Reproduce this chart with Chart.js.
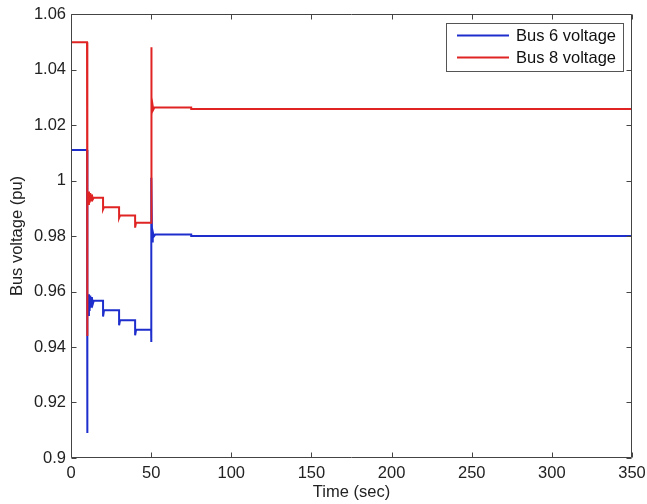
<!DOCTYPE html>
<html><head><meta charset="utf-8">
<script src="https://cdn.jsdelivr.net/npm/chart.js@4/dist/chart.umd.min.js"></script>
<style>html,body{margin:0;padding:0;background:#fff}</style>
</head><body>
<canvas id="c" width="647" height="504"></canvas>
<script>
const xTicks = [0, 50, 100, 150, 200, 250, 300, 350];
const yTicks = [0.9, 0.92, 0.94, 0.96, 0.98, 1.0, 1.02, 1.04, 1.06];
const seriesNames = ['Bus 6 voltage', 'Bus 8 voltage'];

const bus6Time = [0, 10, 10, 10.4, 10.8, 11.2, 11.6, 12.0, 12.5, 13.0, 13.6, 14.2, 20, 20, 20.6, 30, 30, 30.6, 40, 40, 40.6, 50, 50, 50.2, 50.6, 51.0, 51.6, 52.5, 75, 75, 350];
const bus6Volt = [1.011, 1.011, 0.909, 0.955, 0.9515, 0.959, 0.953, 0.9585, 0.9545, 0.958, 0.9555, 0.9567, 0.9567, 0.951, 0.9532, 0.9532, 0.9478, 0.9496, 0.9496, 0.9442, 0.9462, 0.9462, 0.9418, 1.001, 0.978, 0.9815, 0.9798, 0.9805, 0.9805, 0.980, 0.980];

const bus8Time = [0, 10, 10, 10.4, 10.8, 11.2, 11.6, 12.0, 12.5, 13.0, 13.6, 14.2, 20, 20, 20.6, 30, 30, 30.6, 40, 40, 40.6, 50, 50, 50.4, 50.8, 51.3, 52.0, 75, 75, 350];
const bus8Volt = [1.0498, 1.0498, 0.944, 0.994, 0.9915, 0.996, 0.992, 0.9955, 0.9928, 0.995, 0.9932, 0.9938, 0.9938, 0.9896, 0.9904, 0.9904, 0.9865, 0.9874, 0.9874, 0.983, 0.9848, 0.9848, 1.048, 1.0235, 1.0275, 1.0255, 1.0263, 1.0263, 1.0258, 1.0258];

const blue = '#1e2ecc';
const red = '#e02424';

function toPts(t, v) { return t.map((tt, i) => ({x: tt, y: v[i]})); }

const FONT = '"Liberation Sans", Arial, sans-serif';

const framePlugin = {
  id: 'frame',
  afterDraw(chart) {
    const {ctx, chartArea: a, scales: {x, y}} = chart;
    ctx.save();
    ctx.strokeStyle = '#444';
    ctx.lineWidth = 1;
    const L = Math.round(a.left) + 0.5, R = Math.round(a.right) - 0.5;
    const T = Math.round(a.top) + 0.5, B = Math.round(a.bottom) - 0.5;
    ctx.beginPath();
    ctx.rect(L, T, R - L, B - T);
    xTicks.forEach(v => {
      const px = Math.round(x.getPixelForValue(v)) + 0.5;
      ctx.moveTo(px, B); ctx.lineTo(px, B - 5);
      ctx.moveTo(px, T); ctx.lineTo(px, T + 5);
    });
    yTicks.forEach(v => {
      const py = Math.round(y.getPixelForValue(v)) + 0.5;
      ctx.moveTo(L, py); ctx.lineTo(L + 5, py);
      ctx.moveTo(R, py); ctx.lineTo(R - 5, py);
    });
    ctx.stroke();

    // legend
    const bx = 446.5, by = 23.5, bw = 177, bh = 48;
    ctx.fillStyle = '#fff';
    ctx.fillRect(bx, by, bw, bh);
    ctx.strokeStyle = '#555';
    ctx.strokeRect(bx, by, bw, bh);
    const cols = [blue, red];
    const rows = [35.5, 57.5];
    ctx.font = '16.5px ' + FONT;
    ctx.textBaseline = 'middle';
    ctx.textAlign = 'left';
    seriesNames.forEach((name, i) => {
      ctx.strokeStyle = cols[i];
      ctx.lineWidth = 2;
      ctx.beginPath();
      ctx.moveTo(457, rows[i]); ctx.lineTo(509, rows[i]);
      ctx.stroke();
      ctx.fillStyle = '#111';
      ctx.fillText(name, 516, rows[i] + 1);
    });
    ctx.restore();
  }
};

const fontSpec = {family: FONT, size: 16.5};

new Chart(document.getElementById('c'), {
  type: 'line',
  data: {
    datasets: [
      {label: seriesNames[0], data: toPts(bus6Time, bus6Volt), borderColor: blue, borderWidth: 2, pointRadius: 0, tension: 0, fill: false, order: 1},
      {label: seriesNames[1], data: toPts(bus8Time, bus8Volt), borderColor: red, borderWidth: 2, pointRadius: 0, tension: 0, fill: false, order: 0}
    ]
  },
  options: {
    responsive: false,
    animation: false,
    devicePixelRatio: 1,
    layout: {padding: {top: 14, right: 15, bottom: 0, left: 0}},
    plugins: {legend: {display: false}, tooltip: {enabled: false}},
    scales: {
      x: {
        type: 'linear', min: 0, max: 350,
        afterBuildTicks: s => { s.ticks = xTicks.map(v => ({value: v})); },
        afterFit: s => { s.height = 46; s.paddingLeft = 0; s.paddingRight = 0; },
        grid: {display: false, drawTicks: false},
        border: {display: false},
        ticks: {font: fontSpec, color: '#222', padding: 6, maxRotation: 0, autoSkip: false},
        title: {display: true, text: 'Time (sec)', font: fontSpec, color: '#222', padding: {top: 0, bottom: 2}}
      },
      y: {
        type: 'linear', min: 0.9, max: 1.06,
        afterBuildTicks: s => { s.ticks = yTicks.map(v => ({value: v})); },
        afterFit: s => { s.width = 71; s.paddingTop = 0; s.paddingBottom = 0; },
        grid: {display: false, drawTicks: false},
        border: {display: false},
        ticks: {font: fontSpec, color: '#222', padding: 5, autoSkip: false,
          callback: v => String(Number(v.toFixed(2)))},
        title: {display: true, text: 'Bus voltage (pu)', font: fontSpec, color: '#222', padding: {top: 8, bottom: 0}}
      }
    }
  },
  plugins: [framePlugin]
});
</script>
</body></html>
